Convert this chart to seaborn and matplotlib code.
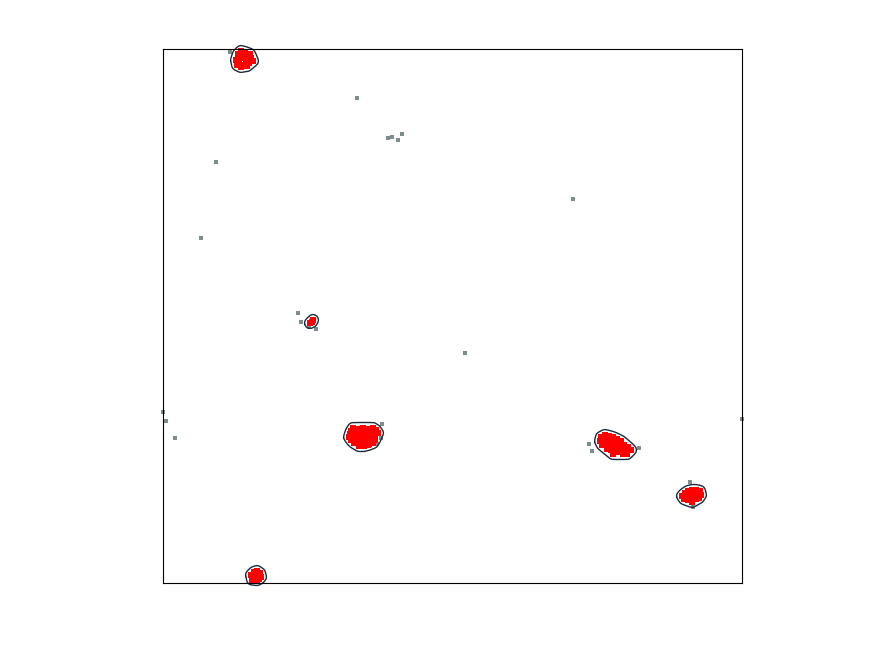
import matplotlib
matplotlib.use("Agg")
import matplotlib.pyplot as plt
import numpy as np
import pandas as pd
import seaborn as sns

# noise points (gray)
noise_x = [6.7, 19.4, 22.5, 22.9, 23.5, 23.9, 5.3, 41.0, 3.8, 13.5, 13.8, 14.6, 15.3,
           30.2, 0.0, 0.3, 1.2, 57.9, 21.9, 21.8, 21.4, 42.6, 42.9, 47.6, 52.7, 53.0]
noise_y = [53.1, 48.5, 44.5, 44.6, 44.3, 44.9, 42.1, 38.4, 34.5, 27.0, 26.1, 25.6, 25.4,
           23.0, 17.1, 16.2, 14.5, 16.4, 15.9, 14.5, 13.9, 13.9, 13.2, 13.5, 10.1, 7.6]

# clustered points (red)
c1_x = [7.3, 7.5, 7.8, 8.2, 8.5, 8.8, 9.0, 7.6, 7.9, 8.3, 8.6, 8.1, 7.8, 8.4, 7.4, 8.0, 8.7, 7.7]
c1_y = [52.3, 52.9, 53.2, 53.1, 52.8, 52.5, 52.2, 52.0, 52.5, 52.4, 52.0, 51.8, 51.6, 51.7,
        51.8, 52.9, 52.9, 52.6]

c2_x = [19.0, 19.5, 20.0, 20.5, 21.0, 18.8, 19.3, 19.8, 20.3, 20.8, 21.3, 18.7, 19.2, 19.7,
        20.2, 20.7, 21.2, 21.5, 18.6, 19.1, 19.6, 20.1, 20.6, 21.1, 18.8, 19.3, 19.8, 20.3,
        20.8, 21.2, 19.1, 19.6, 20.1, 20.6, 21.0, 19.6, 20.1, 20.5]
c2_y = [15.5, 15.4, 15.5, 15.4, 15.5, 15.2, 15.1, 15.2, 15.2, 15.1, 15.3, 14.9, 14.8, 14.9,
        14.9, 14.8, 14.9, 15.0, 14.6, 14.5, 14.6, 14.6, 14.5, 14.6, 14.3, 14.2, 14.3, 14.3,
        14.2, 14.3, 14.0, 13.9, 14.0, 13.9, 14.0, 13.7, 13.7, 13.8]

c3_x = [43.8, 44.2, 44.6, 45.0, 45.4, 45.8, 43.7, 44.1, 44.5, 44.9, 45.3, 45.7, 46.1, 46.5,
        43.9, 44.3, 44.7, 45.1, 45.5, 45.9, 46.3, 46.8, 44.4, 44.8, 45.2, 45.6, 46.0, 46.4, 45.0]
c3_y = [14.6, 14.8, 14.7, 14.6, 14.4, 14.2, 14.2, 14.3, 14.3, 14.2, 14.0, 13.9, 13.8, 13.6,
        13.8, 13.9, 13.8, 13.6, 13.5, 13.4, 13.3, 13.3, 13.4, 13.3, 13.2, 13.1, 12.9, 12.9, 12.9]

c4_x = [51.9, 52.2, 52.5, 52.9, 53.3, 53.7, 52.2, 52.6, 53.0, 53.4, 53.8, 52.5, 52.9, 53.3,
        53.6, 52.9, 52.1]
c4_y = [8.7, 9.0, 9.2, 9.3, 9.3, 9.2, 8.6, 8.8, 8.9, 8.8, 8.8, 8.3, 8.4, 8.4, 8.5, 8.1, 8.4]

c5_x = [8.8, 9.1, 9.4, 9.7, 9.2, 9.5, 9.0, 9.3, 9.6, 9.8, 8.9, 9.4]
c5_y = [0.8, 1.1, 1.2, 1.0, 0.7, 0.6, 0.4, 0.3, 0.4, 0.6, 0.35, 0.3]

c6_x = [14.7, 14.9, 15.0]
c6_y = [26.0, 26.1, 26.3]

clusters = [(c1_x, c1_y), (c2_x, c2_y), (c3_x, c3_y), (c4_x, c4_y), (c5_x, c5_y), (c6_x, c6_y)]


def convex_hull(pts):
    pts = sorted(set(map(tuple, pts)))
    if len(pts) < 3:
        return np.array(pts)

    def cross(o, a, b):
        return (a[0] - o[0]) * (b[1] - o[1]) - (a[1] - o[1]) * (b[0] - o[0])

    lower, upper = [], []
    for p in pts:
        while len(lower) >= 2 and cross(lower[-2], lower[-1], p) <= 0:
            lower.pop()
        lower.append(p)
    for p in reversed(pts):
        while len(upper) >= 2 and cross(upper[-2], upper[-1], p) <= 0:
            upper.pop()
        upper.append(p)
    return np.array(lower[:-1] + upper[:-1])


def smooth_outline(xs, ys, pad=0.55, n_iter=4):
    pts = np.column_stack([xs, ys])
    ang = np.linspace(0, 2 * np.pi, 16, endpoint=False)
    ring = np.column_stack([np.cos(ang), np.sin(ang)]) * pad
    grown = (pts[:, None, :] + ring[None, :, :]).reshape(-1, 2)
    hull = convex_hull(np.round(grown, 4))
    for _ in range(n_iter):
        nxt = np.roll(hull, -1, axis=0)
        q = 0.75 * hull + 0.25 * nxt
        r = 0.25 * hull + 0.75 * nxt
        hull = np.empty((2 * len(hull), 2))
        hull[0::2] = q
        hull[1::2] = r
    return np.vstack([hull, hull[:1]])


noise_df = pd.DataFrame({"x": noise_x, "y": noise_y})
cluster_df = pd.concat(
    [pd.DataFrame({"x": cx, "y": cy, "cluster": i}) for i, (cx, cy) in enumerate(clusters)],
    ignore_index=True,
)

sns.set_style("white")
fig = plt.figure(figsize=(8.75, 6.56), dpi=100)
ax = fig.add_axes([163 / 875, 1 - 583 / 656, 579 / 875, 534 / 656])

sns.scatterplot(data=noise_df, x="x", y="y", color="#7f8c8d", marker="s", s=9,
                linewidth=0, ax=ax, clip_on=False)
sns.scatterplot(data=cluster_df, x="x", y="y", color="#ff0000", marker="s", s=13.5,
                linewidth=0, ax=ax, clip_on=False)

for cx, cy in clusters:
    outline = smooth_outline(cx, cy)
    ax.plot(outline[:, 0], outline[:, 1], color="#1c2b3a", lw=1.0, clip_on=False)

ax.set_xlim(0, 57.9)
ax.set_ylim(0, 53.4)
ax.set_xticks([])
ax.set_yticks([])
ax.set_xlabel("")
ax.set_ylabel("")
for sp in ax.spines.values():
    sp.set_color("black")
    sp.set_linewidth(0.8)

fig.savefig("out.png", dpi=100)
